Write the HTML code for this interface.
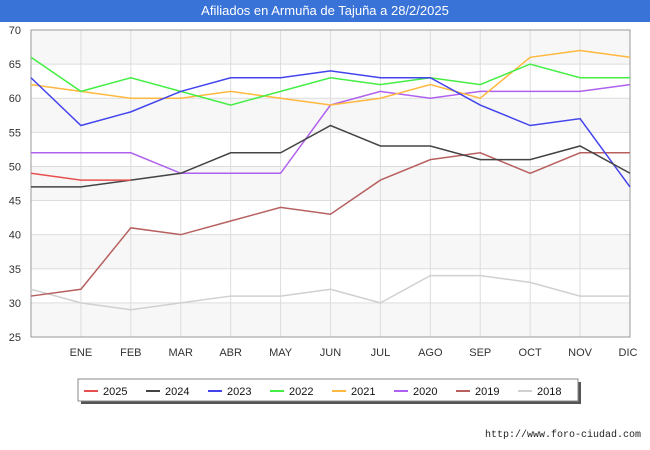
<!DOCTYPE html>
<html><head><meta charset="utf-8"><style>
body{margin:0;width:650px;height:450px;background:#fff;font-family:"Liberation Sans",sans-serif;overflow:hidden;position:relative}
#title{position:absolute;left:0;top:0;width:650px;height:22px;background:#3a73d8;color:#fff;font-size:13px;text-align:center;line-height:22px}
</style></head><body>
<div id="title">Afiliados en Armuña de Tajuña a 28/2/2025</div>
<svg id="chart" width="650" height="450" style="position:absolute;left:0;top:0"></svg>
<script>
const months=["","ENE","FEB","MAR","ABR","MAY","JUN","JUL","AGO","SEP","OCT","NOV","DIC"];
const yTicks=[25,30,35,40,45,50,55,60,65,70];
const seriesNames=["2025","2024","2023","2022","2021","2020","2019","2018"];
const seriesColors=["#e85050","#444444","#4444ee","#44ee44","#ffb840","#b060ee","#b86060","#d0d0d0"];
const s2025=[49,48,48];
const s2024=[47,47,48,49,52,52,56,53,53,51,51,53,49];
const s2023=[63,56,58,61,63,63,64,63,63,59,56,57,47];
const s2022=[66,61,63,61,59,61,63,62,63,62,65,63,63];
const s2021=[62,61,60,60,61,60,59,60,62,60,66,67,66];
const s2020=[52,52,52,49,49,49,59,61,60,61,61,61,62];
const s2019=[31,32,41,40,42,44,43,48,51,52,49,52,52];
const s2018=[32,30,29,30,31,31,32,30,34,34,33,31,31];
const allSeries=[s2025,s2024,s2023,s2022,s2021,s2020,s2019,s2018];
const X0=31,X1=630,Y0=337,Y1=30;
const x=i=>X0+(X1-X0)*i/12;
const y=v=>Y0-(v-25)*(Y0-Y1)/45;
const svg=document.getElementById('chart');
const NS="http://www.w3.org/2000/svg";
function mk(t,a){const e=document.createElementNS(NS,t);for(const k in a)e.setAttribute(k,a[k]);svg.appendChild(e);return e;}
for(let i=0;i<yTicks.length-1;i++){
 if(i%2===0){const r=mk('rect',{x:X0,y:y(yTicks[i+1]),width:X1-X0,height:y(yTicks[i])-y(yTicks[i+1]),fill:'#f7f7f7'});
 
 }
}
yTicks.forEach(v=>{
 const l=mk('line',{x1:X0,x2:X1,y1:y(v),y2:y(v),stroke:'#dddddd'});
 
 
 const t=mk('text',{x:21,y:y(v)+4,'text-anchor':'end','font-size':11,fill:'#333'});
 t.textContent=v;
 
 
});
months.forEach((m,i)=>{
 const l=mk('line',{x1:x(i),x2:x(i),y1:Y1,y2:Y0,stroke:'#dddddd'});
 
 
 if(m){const t=mk('text',{x:x(i)-(i===12?2:0),y:356,'text-anchor':'middle','font-size':11,fill:'#333'});
 t.textContent=m;
 
 }
});
const f=mk('rect',{x:X0,y:Y1,width:X1-X0,height:Y0-Y1,fill:'none',stroke:'#999'});


for(let s=allSeries.length-1;s>=0;s--){
 const pts=allSeries[s].map((v,i)=>x(i)+','+y(v)).join(' ');
 const p=mk('polyline',{points:pts,fill:'none',stroke:seriesColors[s],'stroke-width':1.5});
 
 
}
const sh=mk('rect',{x:81,y:382,width:500,height:22,fill:'#555'});


const lb=mk('rect',{x:78,y:379,width:500,height:22,fill:'#fff',stroke:'#888'});


seriesNames.forEach((n,i)=>{
 const lx=84+i*62;
 const l=mk('line',{x1:lx,x2:lx+14,y1:391,y2:391,stroke:seriesColors[i],'stroke-width':2});
 
 
 const t=mk('text',{x:lx+19,y:395,'font-size':11,fill:'#111'});
 t.textContent=n;
 
 
});
const u=mk('text',{x:641,y:437,'text-anchor':'end','font-size':10,fill:'#222','font-family':'Liberation Mono, monospace'});
u.textContent='http://www.foro-ciudad.com';


</script>
</body></html>
